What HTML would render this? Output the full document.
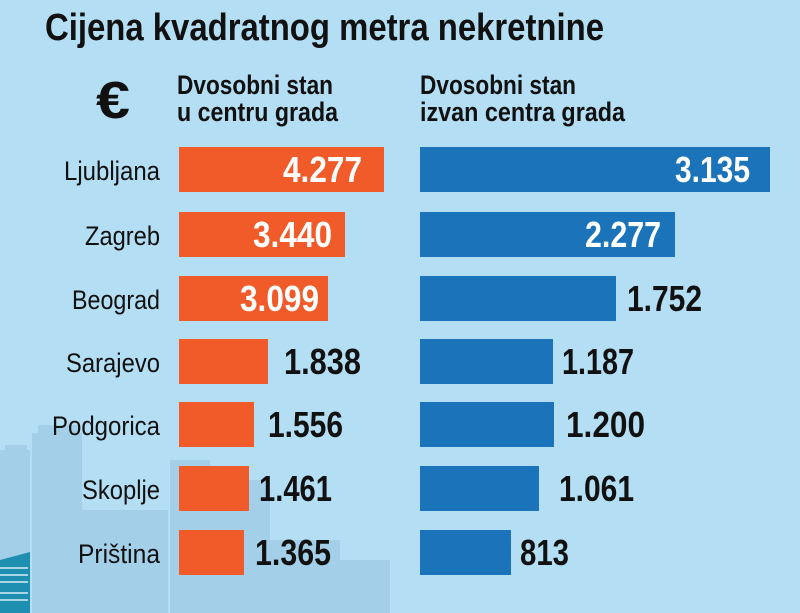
<!DOCTYPE html>
<html><head><meta charset="utf-8"><style>
body{margin:0;width:800px;height:613px;overflow:hidden;background:#b4def3}
svg{display:block}
text{font-family:"Liberation Sans Narrow","Liberation Sans",sans-serif}
</style></head><body>
<svg width="800" height="613" viewBox="0 0 800 613">
<rect width="800" height="613" fill="#b4def3"/>
<g fill="#a3d0e8">
<rect x="0" y="450" width="30" height="163"/>
<rect x="5" y="445" width="22" height="10"/>
<rect x="32" y="433" width="50" height="180"/>
<rect x="38" y="425" width="40" height="12"/>
<rect x="82" y="510" width="40" height="103"/>
<rect x="118" y="510" width="50" height="103"/>
<rect x="170" y="460" width="40" height="153"/>
<rect x="210" y="480" width="60" height="133"/>
<rect x="260" y="540" width="80" height="73"/>
<rect x="330" y="560" width="60" height="53"/>
</g>
<polygon points="0,560 30,552 30,613 0,613" fill="#1e8fb0"/>
<g stroke="#d8eef6" stroke-width="1.5">
<line x1="0" y1="568" x2="28" y2="568"/><line x1="0" y1="575" x2="28" y2="575"/><line x1="0" y1="582" x2="28" y2="582"/><line x1="0" y1="593" x2="28" y2="593"/><line x1="0" y1="600" x2="28" y2="600"/>
</g>
<text x="45" y="40" font-size="38" font-weight="bold" fill="#111" textLength="559" lengthAdjust="spacingAndGlyphs">Cijena kvadratnog metra nekretnine</text>
<text x="96" y="118" font-size="52" font-weight="bold" fill="#111" textLength="34" lengthAdjust="spacingAndGlyphs">€</text>
<g font-size="27" font-weight="bold" fill="#111">
<text x="177" y="94" textLength="156" lengthAdjust="spacingAndGlyphs">Dvosobni stan</text>
<text x="177" y="121" textLength="161" lengthAdjust="spacingAndGlyphs">u centru grada</text>
<text x="420" y="94" textLength="156" lengthAdjust="spacingAndGlyphs">Dvosobni stan</text>
<text x="420" y="121" textLength="205" lengthAdjust="spacingAndGlyphs">izvan centra grada</text>
</g>
<g font-size="27" fill="#111">
<text x="64" y="180" textLength="96" lengthAdjust="spacingAndGlyphs">Ljubljana</text>
<text x="85" y="245" textLength="75" lengthAdjust="spacingAndGlyphs">Zagreb</text>
<text x="72" y="309" textLength="88" lengthAdjust="spacingAndGlyphs">Beograd</text>
<text x="66" y="372" textLength="94" lengthAdjust="spacingAndGlyphs">Sarajevo</text>
<text x="52" y="435" textLength="108" lengthAdjust="spacingAndGlyphs">Podgorica</text>
<text x="82" y="499" textLength="78" lengthAdjust="spacingAndGlyphs">Skoplje</text>
<text x="78" y="563" textLength="82" lengthAdjust="spacingAndGlyphs">Priština</text>
</g>
<g fill="#f15a29">
<rect x="179" y="147" width="205" height="45"/>
<rect x="179" y="212" width="166" height="45"/>
<rect x="179" y="276" width="149" height="45"/>
<rect x="179" y="339" width="89" height="45"/>
<rect x="179" y="402" width="75" height="45"/>
<rect x="179" y="466" width="70" height="45"/>
<rect x="179" y="530" width="65" height="45"/>
</g>
<g fill="#1b73ba">
<rect x="420" y="147" width="350" height="45"/>
<rect x="420" y="212" width="255" height="45"/>
<rect x="420" y="276" width="196" height="45"/>
<rect x="420" y="339" width="133" height="45"/>
<rect x="420" y="402" width="134" height="45"/>
<rect x="420" y="466" width="119" height="45"/>
<rect x="420" y="530" width="91" height="45"/>
</g>
<g font-size="36" font-weight="bold">
<text x="283" y="182" fill="#fff" textLength="79" lengthAdjust="spacingAndGlyphs">4.277</text>
<text x="253" y="247" fill="#fff" textLength="79" lengthAdjust="spacingAndGlyphs">3.440</text>
<text x="240" y="311" fill="#fff" textLength="79" lengthAdjust="spacingAndGlyphs">3.099</text>
<text x="284" y="374" fill="#111" textLength="77" lengthAdjust="spacingAndGlyphs">1.838</text>
<text x="268" y="437" fill="#111" textLength="75" lengthAdjust="spacingAndGlyphs">1.556</text>
<text x="259" y="501" fill="#111" textLength="73" lengthAdjust="spacingAndGlyphs">1.461</text>
<text x="255" y="565" fill="#111" textLength="76" lengthAdjust="spacingAndGlyphs">1.365</text>
<text x="675" y="182" fill="#fff" textLength="75" lengthAdjust="spacingAndGlyphs">3.135</text>
<text x="585" y="247" fill="#fff" textLength="76" lengthAdjust="spacingAndGlyphs">2.277</text>
<text x="627" y="311" fill="#111" textLength="75" lengthAdjust="spacingAndGlyphs">1.752</text>
<text x="562" y="374" fill="#111" textLength="72" lengthAdjust="spacingAndGlyphs">1.187</text>
<text x="566" y="437" fill="#111" textLength="79" lengthAdjust="spacingAndGlyphs">1.200</text>
<text x="559" y="501" fill="#111" textLength="75" lengthAdjust="spacingAndGlyphs">1.061</text>
<text x="520" y="565" fill="#111" textLength="49" lengthAdjust="spacingAndGlyphs">813</text>
</g>
</svg>
</body></html>
